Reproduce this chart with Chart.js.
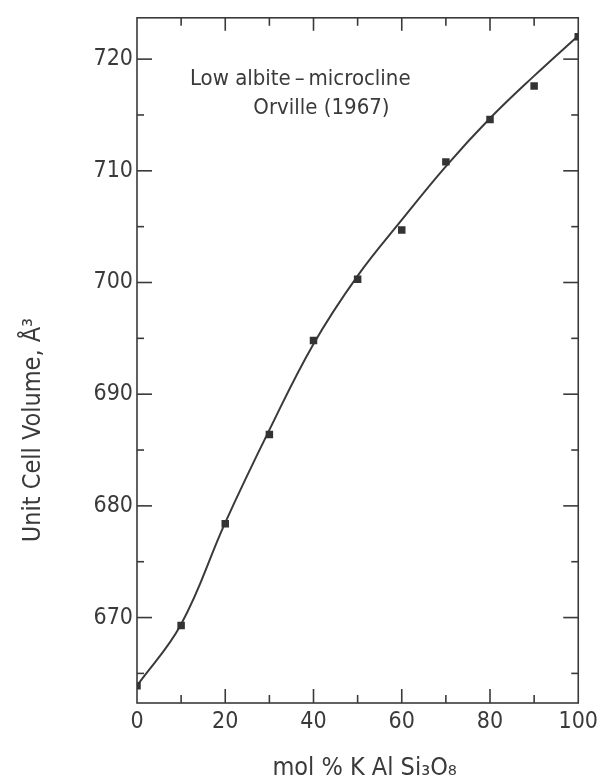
<!DOCTYPE html>
<html>
<head>
<meta charset="utf-8">
<script src="https://cdn.jsdelivr.net/npm/chart.js@4"></script>
<style>
  body { margin: 0; background: #fff; }
  canvas { display: block; }
</style>
</head>
<body>
<canvas id="chart" width="603" height="782"></canvas>
<script>
// measured points (mol % KAlSi3O8 vs unit cell volume)
const molPercent = [0, 10, 20, 30, 40, 50, 60, 70, 80, 90, 100];
const cellVolume = [663.9, 669.3, 678.4, 686.4, 694.8, 700.3, 704.7, 710.8, 714.6, 717.6, 722.0];

// the fitted curve
const curvePercent = [0, 10, 20, 30, 40, 50, 60, 70, 80, 90, 100];
const curveVolume = [663.9, 669.4, 678.5, 686.8, 694.5, 700.6, 705.6, 710.4, 714.7, 718.5, 722.1];

const xTicks = [0, 20, 40, 60, 80, 100];
const xMinorTicks = [10, 30, 50, 70, 90];
const yTicks = [670, 680, 690, 700, 710, 720];
const yMinorTicks = [665, 675, 685, 695, 705, 715];

const noteLines = ['Low albite\u2009\u2013\u2009microcline', 'Orville (1967)'];
const xTitle = 'mol % K Al Si\u2083O\u2088';
const yTitle = 'Unit Cell Volume, \u00C5\u00B3';

const INK = '#3a3a3a';
const FONT = "'DejaVu Sans Condensed', 'Liberation Sans Narrow', 'DejaVu Sans', sans-serif";

const frame = {
  id: 'frame',
  afterDraw(chart) {
    const { ctx, chartArea: a, scales: { x, y } } = chart;
    ctx.save();
    ctx.strokeStyle = INK;
    ctx.lineWidth = 1.6;
    ctx.strokeRect(a.left, a.top, a.right - a.left, a.bottom - a.top);

    const tick = (x1, y1, x2, y2) => {
      ctx.beginPath();
      ctx.moveTo(x1, y1);
      ctx.lineTo(x2, y2);
      ctx.stroke();
    };
    // ticks point inwards on all four sides
    for (const v of yTicks) {
      const p = y.getPixelForValue(v);
      tick(a.left, p, a.left + 15, p);
      tick(a.right, p, a.right - 15, p);
    }
    for (const v of yMinorTicks) {
      const p = y.getPixelForValue(v);
      tick(a.left, p, a.left + 7, p);
      tick(a.right, p, a.right - 7, p);
    }
    for (const v of xTicks) {
      const p = x.getPixelForValue(v);
      if (p <= a.left + 1 || p >= a.right - 1) continue;
      tick(p, a.bottom, p, a.bottom - 14);
      tick(p, a.top, p, a.top + 13);
    }
    for (const v of xMinorTicks) {
      const p = x.getPixelForValue(v);
      tick(p, a.bottom, p, a.bottom - 8);
      tick(p, a.top, p, a.top + 8);
    }

    ctx.fillStyle = INK;
    ctx.textAlign = 'center';
    ctx.textBaseline = 'middle';
    ctx.font = '22px ' + FONT;
    ctx.fillText(noteLines[0], x.getPixelForValue(37), y.getPixelForValue(718.2));
    ctx.fillText(noteLines[1], x.getPixelForValue(41.8), y.getPixelForValue(715.6));

    ctx.font = '25px ' + FONT;
    ctx.fillText(xTitle, (a.left + a.right) / 2 + 7, 768);

    ctx.translate(33, 430);
    ctx.rotate(-Math.PI / 2);
    ctx.fillText(yTitle, 0, 0);
    ctx.restore();
  }
};

new Chart(document.getElementById('chart'), {
  type: 'scatter',
  data: {
    datasets: [
      {
        label: 'measured',
        data: molPercent.map((m, i) => ({ x: m, y: cellVolume[i] })),
        pointStyle: 'rect',
        pointRadius: 5.3,
        backgroundColor: '#333',
        borderColor: '#333',
        borderWidth: 0,
        order: 0
      },
      {
        label: 'curve',
        data: curvePercent.map((m, i) => ({ x: m, y: curveVolume[i] })),
        showLine: true,
        tension: 0.4,
        pointRadius: 0,
        borderColor: INK,
        borderWidth: 2,
        order: 1
      }
    ]
  },
  options: {
    responsive: false,
    animation: false,
    layout: { padding: { top: 13, right: 23, left: 0, bottom: 0 } },
    plugins: {
      legend: { display: false },
      tooltip: { enabled: false }
    },
    scales: {
      x: {
        type: 'linear',
        min: 0,
        max: 100,
        afterBuildTicks: s => { s.ticks = xTicks.map(v => ({ value: v })); },
        afterFit: s => { s.height = 79; },
        grid: { display: false, drawTicks: false },
        border: { display: false },
        ticks: { color: INK, padding: 5, font: { family: FONT, size: 23 } }
      },
      y: {
        min: 662.35,
        max: 723.7,
        afterBuildTicks: s => { s.ticks = yTicks.map(v => ({ value: v })); },
        afterFit: s => { s.width = 137; },
        grid: { display: false, drawTicks: false },
        border: { display: false },
        ticks: { color: INK, padding: 4, font: { family: FONT, size: 23 } }
      }
    }
  },
  plugins: [frame]
});
</script>
</body>
</html>
